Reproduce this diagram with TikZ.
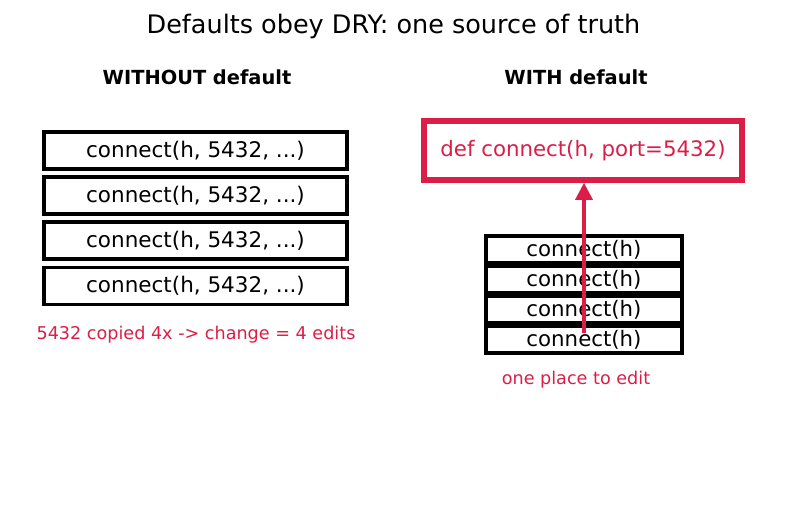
\documentclass[tikz,border=0pt]{standalone}
\usepackage{fontspec}
\setmainfont{DejaVu Sans}
\usetikzlibrary{arrows.meta}
\definecolor{accent}{RGB}{218,30,72}
\begin{document}
\begin{tikzpicture}[x=1pt,y=-1pt,
  cbox/.style={draw=black,line width=3.4pt,minimum width=303pt,minimum height=37pt,inner sep=0pt,font=\fontsize{21.5}{24}\selectfont},
  sbox/.style={draw=black,line width=3.2pt,minimum width=196pt,minimum height=27pt,inner sep=0pt,font=\fontsize{21.3}{24}\selectfont},
  defbox/.style={draw=accent,line width=5.6pt,minimum width=318pt,minimum height=59pt,inner sep=0pt,text=accent,font=\fontsize{21.3}{24}\selectfont},
  head/.style={font=\bfseries\fontsize{19.4}{22}\selectfont},
  note/.style={text=accent,font=\fontsize{17.6}{21}\selectfont}]
\useasboundingbox (0,0) rectangle (787,512);
\node[font=\fontsize{25.5}{30}\selectfont] (title) at (393.5,26) {Defaults obey DRY: one source of truth};
\node[head] (hl) at (197,77) {WITHOUT default};
\node[head] (hr) at (576,77) {WITH default};
\node[cbox] (l1) at (195.5,150.5) {connect(h, 5432, ...)};
\node[cbox] (l2) at (195.5,195.5) {connect(h, 5432, ...)};
\node[cbox] (l3) at (195.5,240.5) {connect(h, 5432, ...)};
\node[cbox] (l4) at (195.5,286) {connect(h, 5432, ...)};
\node[note] (ln) at (196,334.5) {5432 copied 4x -> change = 4 edits};
\node[defbox] (def) at (583,150.5) {def connect(h, port=5432)};
\node[sbox] (r1) at (584,249.5) {connect(h)};
\node[sbox] (r2) at (584,279.5) {connect(h)};
\node[sbox] (r3) at (584,309.5) {connect(h)};
\node[sbox] (r4) at (584,339.5) {connect(h)};
\node[note] (rn) at (576,379.5) {one place to edit};
\coordinate (as) at (584,333);
\draw[accent,line width=3.2pt,-{Triangle[length=17pt,width=17pt]}] (as) -- (def.south -| as);
\end{tikzpicture}
\end{document}
